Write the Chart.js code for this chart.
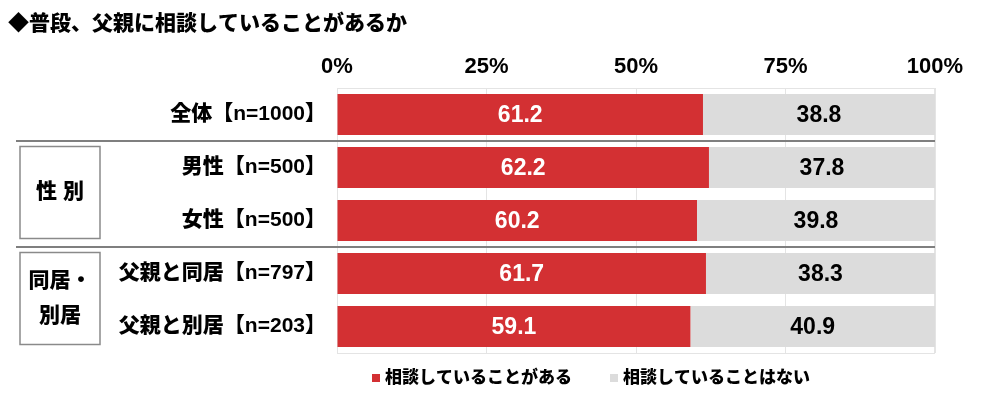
<!DOCTYPE html>
<html>
<head>
<meta charset="utf-8">
<script src="https://cdn.jsdelivr.net/npm/chart.js@4"></script>
<style>
  html, body { margin: 0; padding: 0; background: #fff; }
</style>
</head>
<body>
<canvas id="chart" width="1000" height="397"></canvas>
<script>
// Chart data
const chartTitle = '◆普段、父親に相談していることがあるか';
const categories = ['全体【n=1000】', '男性【n=500】', '女性【n=500】', '父親と同居【n=797】', '父親と別居【n=203】'];
const seriesNames = ['相談していることがある', '相談していることはない'];
const consultYes = [61.2, 62.2, 60.2, 61.7, 59.1];
const consultNo = [38.8, 37.8, 39.8, 38.3, 40.9];
const tickLabels = ['0%', '25%', '50%', '75%', '100%'];
const groupNames = [['性 別'], ['同居・', '別居']];
const groupRanges = [[1, 2], [3, 4]];

const RED = '#d33033';
const GRAY = '#dcdcdc';
const FONT = "'Liberation Sans', 'Noto Sans CJK JP', sans-serif";

// Value labels centred inside each bar segment
const valueLabels = {
    id: 'valueLabels',
    afterDatasetsDraw(chart) {
        const ctx = chart.ctx;
        ctx.save();
        ctx.font = 'bold 23px ' + FONT;
        ctx.textAlign = 'center';
        ctx.textBaseline = 'middle';
        chart.data.datasets.forEach((ds, i) => {
            chart.getDatasetMeta(i).data.forEach((bar, j) => {
                const p = bar.getProps(['x', 'y', 'base'], true);
                ctx.fillStyle = i === 0 ? '#ffffff' : '#000000';
                ctx.fillText(ds.data[j].toFixed(1), (p.x + p.base) / 2, p.y + 1);
            });
        });
        ctx.restore();
    }
};

// Frame, title, group separators/boxes and legend
const decorations = {
    id: 'decorations',
    beforeDatasetsDraw(chart) {
        const { ctx, chartArea } = chart;
        ctx.save();
        ctx.strokeStyle = '#e4e4e4';
        ctx.lineWidth = 1;
        ctx.strokeRect(chartArea.left + 0.5, chartArea.top + 0.5, chartArea.width - 1, chartArea.height);
        ctx.restore();
    },
    afterDraw(chart) {
        const { ctx, chartArea } = chart;
        const y = chart.scales.y;
        const step = y.getPixelForValue(1) - y.getPixelForValue(0);
        ctx.save();

        // title
        ctx.fillStyle = '#000';
        ctx.font = '900 21px ' + FONT;
        ctx.textAlign = 'left';
        ctx.textBaseline = 'middle';
        ctx.fillText(chartTitle, 8, 24);

        // group separators and boxes
        groupRanges.forEach((range, g) => {
            const top = y.getPixelForValue(range[0]) - step / 2;
            const bottom = y.getPixelForValue(range[1]) + step / 2;
            ctx.strokeStyle = '#7f7f7f';
            ctx.lineWidth = 2;
            ctx.beginPath();
            ctx.moveTo(16, top);
            ctx.lineTo(chartArea.right, top);
            ctx.stroke();

            ctx.lineWidth = 1.5;
            ctx.strokeStyle = '#8a8a8a';
            ctx.strokeRect(20, top + 5.5, 80, bottom - top - 14);

            const lines = groupNames[g];
            const mid = top + 5.5 + (bottom - top - 14) / 2;
            ctx.font = '900 21px ' + FONT;
            ctx.textAlign = 'center';
            ctx.fillStyle = '#000';
            lines.forEach((t, k) => {
                ctx.fillText(t, 60, mid + (k - (lines.length - 1) / 2) * 35);
            });
        });

        // legend
        ctx.font = '900 17px ' + FONT;
        ctx.textAlign = 'left';
        const box = 8, gap = 5, spacing = 38;
        const widths = chart.data.datasets.map(ds => box + gap + ctx.measureText(ds.label).width);
        const total = widths.reduce((a, b) => a + b, 0) + spacing * (widths.length - 1);
        let x = 591 - total / 2;
        const ly = 378;
        chart.data.datasets.forEach((ds, i) => {
            ctx.fillStyle = ds.backgroundColor;
            ctx.fillRect(x, ly - box / 2, box, box);
            ctx.fillStyle = '#000';
            ctx.fillText(ds.label, x + box + gap, ly);
            x += widths[i] + spacing;
        });
        ctx.restore();
    }
};

new Chart(document.getElementById('chart'), {
    type: 'bar',
    data: {
        labels: categories,
        datasets: [
            { label: seriesNames[0], data: consultYes, backgroundColor: RED },
            { label: seriesNames[1], data: consultNo, backgroundColor: GRAY }
        ]
    },
    options: {
        indexAxis: 'y',
        responsive: false,
        animation: false,
        devicePixelRatio: 1,
        layout: { padding: { left: 0, right: 65, top: 0, bottom: 44 } },
        datasets: { bar: { categoryPercentage: 1, barPercentage: 0.77 } },
        plugins: {
            legend: { display: false },
            tooltip: { enabled: false }
        },
        scales: {
            x: {
                position: 'top',
                stacked: true,
                min: 0,
                max: 100,
                afterFit: scale => { scale.height = 88; },
                ticks: {
                    stepSize: 25,
                    padding: 8,
                    color: '#000',
                    font: { family: FONT, size: 22, weight: 'bold' },
                    callback: value => tickLabels[value / 25]
                },
                grid: { color: '#e4e4e4', drawTicks: false },
                border: { color: '#e4e4e4' }
            },
            y: {
                stacked: true,
                afterFit: scale => { scale.width = 337; },
                ticks: {
                    padding: 3,
                    color: '#000',
                    font: { family: FONT, size: 21, weight: 900 }
                },
                grid: { display: false },
                border: { display: false }
            }
        }
    },
    plugins: [valueLabels, decorations]
});
</script>
</body>
</html>
